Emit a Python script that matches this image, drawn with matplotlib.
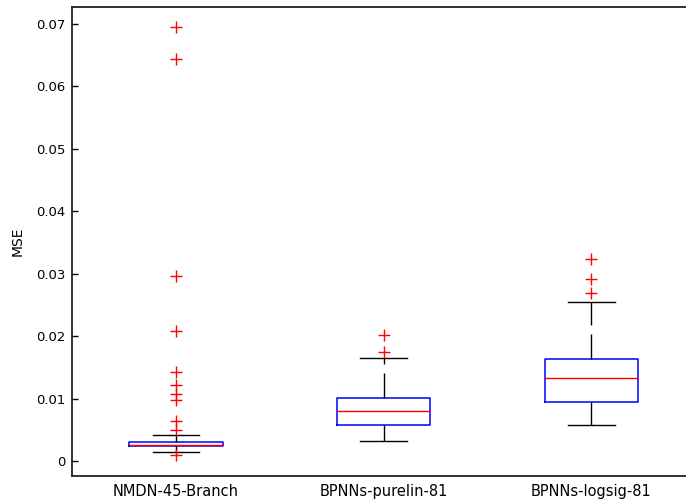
import numpy as np
import matplotlib.pyplot as plt

# model names and summary statistics of the MSE per model
labels = ['NMDN-45-Branch', 'BPNNs-purelin-81', 'BPNNs-logsig-81']
med = [0.00256, 0.00806, 0.01334]
q1 = [0.00235, 0.00577, 0.00940]
q3 = [0.00310, 0.01009, 0.01634]
whis_lo = [0.00144, 0.00320, 0.00577]
whis_hi = [0.00416, 0.01650, 0.02547]
outliers = [
    [0.0695, 0.0644, 0.0296, 0.0209, 0.0142, 0.0122, 0.0108, 0.0097,
     0.0064, 0.0049, 0.0010],
    [0.0202, 0.0174],
    [0.0323, 0.0291, 0.0269],
]

stats = []
for i in range(len(labels)):
    stats.append(dict(label=labels[i], med=med[i], q1=q1[i], q3=q3[i],
                      whislo=whis_lo[i], whishi=whis_hi[i],
                      fliers=np.array(outliers[i])))

fig = plt.figure(figsize=(6.86, 5.03), dpi=100)
ax = fig.add_axes([0.1054, 0.0537, 0.9077, 0.9324])

ax.bxp(stats, positions=[1, 2, 3], widths=0.45, showfliers=True,
       boxprops=dict(color='blue', linewidth=1.1),
       medianprops=dict(color='red', linewidth=1.0),
       whiskerprops=dict(color='black', linewidth=1.0,
                         linestyle=(0, (18, 6.5))),
       capprops=dict(color='black', linewidth=1.0),
       capwidths=0.225,
       flierprops=dict(marker='+', markeredgecolor='red',
                       markersize=9, markeredgewidth=1.0))

ax.set_xlim(0.5, 3.5)
ax.set_ylim(-0.0024, 0.07272)
ax.set_yticks(np.arange(0, 0.071, 0.01))
ax.set_yticklabels(['0'] + ['%.2f' % v for v in np.arange(0.01, 0.071, 0.01)])
ax.set_ylabel('MSE', fontsize=10, labelpad=8)

ax.tick_params(axis='y', direction='in', length=4, width=1, pad=5,
               labelsize=9.5, right=True)
ax.tick_params(axis='x', length=0, pad=6, labelsize=10.5)
for s in ax.spines.values():
    s.set_linewidth(1.3)
    s.set_color('#222222')

fig.savefig('out.png', dpi=100)
